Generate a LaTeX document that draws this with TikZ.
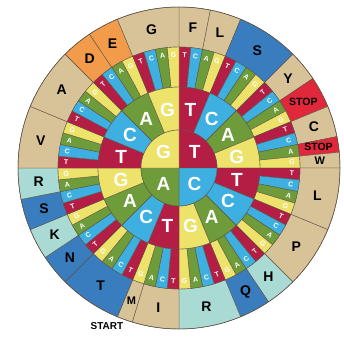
\documentclass[tikz,border=0pt]{standalone}
\usepackage{fontspec}
\setmainfont{Liberation Sans}
\definecolor{cT}{HTML}{B41E44}
\definecolor{cC}{HTML}{3DAFE0}
\definecolor{cA}{HTML}{6E9C3A}
\definecolor{cG}{HTML}{EDE26A}
\colorlet{b0}{cT}\colorlet{b1}{cC}\colorlet{b2}{cA}\colorlet{b3}{cG}
\definecolor{tan}{HTML}{D8C398}
\definecolor{org}{HTML}{F29B4B}
\definecolor{dblue}{HTML}{3A7DBE}
\definecolor{teal}{HTML}{A9DBD4}
\definecolor{stopred}{HTML}{E1273A}
\definecolor{edge}{HTML}{5E5246}
\newcommand\sect[5]{\filldraw[fill=#1,draw=edge,line width=0.4pt] ({90-(#2)}:#4pt) arc[start angle={90-(#2)}, end angle={90-(#3)}, radius=#4pt] -- ({90-(#3)}:#5pt) arc[start angle={90-(#3)}, end angle={90-(#2)}, radius=#5pt] -- cycle;}
\newcommand\pie[4]{\filldraw[fill=#1,draw=edge,line width=0.4pt] (0,0) -- ({90-(#2)}:#4pt) arc[start angle={90-(#2)}, end angle={90-(#3)}, radius=#4pt] -- cycle;}
\tikzset{
 big/.style={text=white,font=\fontsize{19}{19}\selectfont\bfseries,inner sep=0pt},
 small/.style={text=white,font=\fontsize{7}{7}\selectfont\bfseries,inner sep=0pt},
 aa/.style={text=black,font=\fontsize{14}{14}\selectfont\bfseries,inner sep=0pt},
 aas/.style={text=black,font=\fontsize{11}{11}\selectfont\bfseries,inner sep=0pt},
 aastop/.style={text=black,font=\fontsize{10.5}{10.5}\selectfont\bfseries,inner sep=0pt},
 startlbl/.style={text=black,font=\fontsize{10}{10}\selectfont\bfseries,inner sep=0pt}
}
\begin{document}
\begin{tikzpicture}[x=1pt,y=1pt]
\fill[white] (-179,-169) rectangle (165,168);
\useasboundingbox (-179,-169) rectangle (165,168);
% amino acid ring
\foreach \s/\e/\col/\lab/\sty in {0/2/tan/F/aa, 2/4/tan/L/aa, 4/8/dblue/S/aa, 8/10/tan/Y/aa, 10/12/stopred/STOP/aastop, 12/14/tan/C/aa, 14/15/stopred/STOP/aastop, 15/16/tan/W/aas,
 16/20/tan/L/aa, 20/24/tan/P/aa, 24/26/teal/H/aa, 26/28/dblue/Q/aa, 28/32/teal/R/aa,
 32/35/tan/I/aa, 35/36/tan/M/aas, 36/40/dblue/T/aa, 40/42/dblue/N/aa, 42/44/teal/K/aa, 44/46/dblue/S/aa, 46/48/teal/R/aa,
 48/52/tan/V/aa, 52/56/tan/A/aa, 56/58/org/D/aa, 58/60/org/E/aa, 60/64/tan/G/aa}{
 \pgfmathsetmacro\ta{5.625*\s}
 \pgfmathsetmacro\tb{5.625*\e}
 \pgfmathsetmacro\tm{90-(\ta+\tb)/2}
 \sect{\col}{\ta}{\tb}{121}{161}
 \node[\sty] (aa\s) at (\tm:141pt) {\lab};
}
% third ring: 64 strips
\foreach \q in {0,...,15}{
 \foreach \L [count=\j from 0] in {T,C,A,G}{
  \pgfmathtruncatemacro\k{4*\q+\j}
  \pgfmathsetmacro\ta{5.625*\k}
  \pgfmathsetmacro\tb{5.625*(\k+1)}
  \pgfmathsetmacro\thm{5.625*(\k+0.5)}
  \pgfmathsetmacro\rot{mod(-\thm+765,90)-45}
  \sect{b\j}{\ta}{\tb}{81}{121}
  \node[small,rotate=\rot] (s\k) at ({90-\thm}:113pt) {\L};
 }
}
% second ring
\foreach \q in {0,...,3}{
 \foreach \L [count=\j from 0] in {T,C,A,G}{
  \pgfmathtruncatemacro\k{4*\q+\j}
  \pgfmathsetmacro\ta{22.5*\k}
  \pgfmathsetmacro\tb{22.5*(\k+1)}
  \pgfmathsetmacro\thm{22.5*(\k+0.5)}
  \sect{b\j}{\ta}{\tb}{38}{81}
  \node[big] (m\k) at ({90-\thm}:59pt) {\L};
 }
}
% centre
\foreach \L [count=\j from 0] in {T,C,A,G}{
  \pgfmathsetmacro\ta{90*\j}
  \pgfmathsetmacro\tb{90*(\j+1)}
  \pgfmathsetmacro\thm{90*\j+45}
  \pie{b\j}{\ta}{\tb}{38}
  \node[big] (c\j) at ({90-\thm}:22pt) {\L};
}
\draw[edge,line width=0.5pt] (0,0) circle[radius=161pt];
\node[startlbl] (start) at (-72,-158) {START};
\end{tikzpicture}
\end{document}
